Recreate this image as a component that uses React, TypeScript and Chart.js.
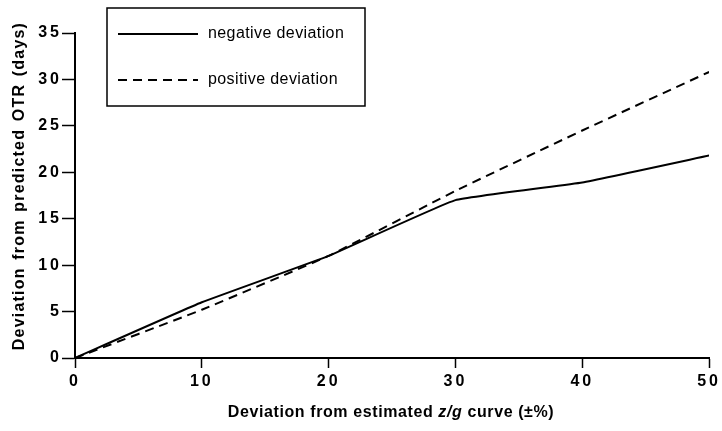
import React, { useEffect, useRef } from "react";
import { Chart, registerables } from "chart.js";

Chart.register(...registerables);

const xValues = [0, 10, 20, 30, 40, 50];
const negativeDeviation = [0, 6, 11, 17, 18.9, 21.8];
const positiveDeviation = [0, 5.2, 11, 18, 24.5, 30.8];
const xTicks = [0, 10, 20, 30, 40, 50];
const yTicks = [0, 5, 10, 15, 20, 25, 30, 35];
const legendLabels = ["negative deviation", "positive deviation"];
const yTitle = "Deviation from predicted OTR (days)";
const xTitleParts = [
  { text: "Deviation from estimated ", italic: false },
  { text: "z/g", italic: true },
  { text: " curve (±%)", italic: false },
];

const FONT = '"Liberation Sans", Arial, sans-serif';

const decorPlugin = {
  id: "decor",
  beforeDraw(chart: any) {
    chart.ctx.letterSpacing = "3px";
  },
  afterDraw(chart: any) {
    const ctx = chart.ctx as any;
    ctx.save();
    ctx.letterSpacing = "0px";
    ctx.fillStyle = "#000";
    ctx.strokeStyle = "#000";
    // Y title
    ctx.save();
    ctx.translate(20, 186);
    ctx.rotate(-Math.PI / 2);
    ctx.font = `bold 16px ${FONT}`;
    ctx.letterSpacing = "1.2px";
    ctx.wordSpacing = "2px";
    ctx.textAlign = "center";
    ctx.textBaseline = "middle";
    ctx.fillText(yTitle, 0, 0);
    ctx.restore();
    // X title with italic part
    ctx.letterSpacing = "0.6px";
    ctx.wordSpacing = "0px";
    const widths = xTitleParts.map((p) => {
      ctx.font = `${p.italic ? "italic " : ""}bold 16px ${FONT}`;
      return ctx.measureText(p.text).width;
    });
    const total = widths.reduce((a: number, b: number) => a + b, 0);
    let x = 391 - total / 2;
    ctx.textBaseline = "middle";
    ctx.textAlign = "left";
    xTitleParts.forEach((p, i) => {
      ctx.font = `${p.italic ? "italic " : ""}bold 16px ${FONT}`;
      ctx.fillText(p.text, x, 413);
      x += widths[i];
    });
    // Legend box
    ctx.letterSpacing = "0.4px";
    ctx.fillStyle = "#fff";
    ctx.fillRect(107, 8, 258, 98);
    ctx.lineWidth = 1.5;
    ctx.strokeRect(107, 8, 258, 98);
    const rows = [34, 80];
    ctx.lineWidth = 2;
    rows.forEach((y, i) => {
      ctx.setLineDash(i === 0 ? [] : [9, 6]);
      ctx.beginPath();
      ctx.moveTo(118, y);
      ctx.lineTo(198, y);
      ctx.stroke();
    });
    ctx.setLineDash([]);
    ctx.fillStyle = "#000";
    ctx.font = `16px ${FONT}`;
    ctx.textAlign = "left";
    ctx.textBaseline = "middle";
    rows.forEach((y, i) => ctx.fillText(legendLabels[i], 208, y));
    ctx.restore();
  },
};

export default function App() {
  const ref = useRef<HTMLCanvasElement>(null);
  useEffect(() => {
    document.body.style.margin = "0";
    const chart = new Chart(ref.current!, {
      type: "line",
      data: {
        datasets: [
          {
            label: legendLabels[0],
            data: xValues.map((x, i) => ({ x, y: negativeDeviation[i] })),
            borderColor: "#000",
            borderWidth: 2,
            pointRadius: 0,
            tension: 0.1,
            fill: false,
          },
          {
            label: legendLabels[1],
            data: xValues.map((x, i) => ({ x, y: positiveDeviation[i] })),
            borderColor: "#000",
            borderWidth: 2,
            borderDash: [9, 6],
            pointRadius: 0,
            tension: 0.1,
            fill: false,
          },
        ],
      },
      options: {
        responsive: false,
        animation: false,
        layout: { padding: { top: 33, right: 12, left: 0, bottom: 0 } },
        plugins: { legend: { display: false }, tooltip: { enabled: false } },
        scales: {
          x: {
            type: "linear",
            min: 0,
            max: 50,
            afterBuildTicks: (s: any) => {
              s.ticks = xTicks.map((v) => ({ value: v }));
            },
            afterFit: (s: any) => {
              s.height = 73;
            },
            grid: {
              display: true,
              drawOnChartArea: false,
              tickLength: 10,
              tickWidth: 1.5,
              color: "#000",
            },
            border: { display: true, color: "#000", width: 2 },
            ticks: {
              color: "#000",
              font: { family: FONT, size: 16, weight: "bold" },
              padding: 4,
              maxRotation: 0,
            },
          },
          y: {
            type: "linear",
            min: 0,
            max: 35,
            afterBuildTicks: (s: any) => {
              s.ticks = yTicks.map((v) => ({ value: v }));
            },
            afterFit: (s: any) => {
              s.width = 75;
            },
            grid: {
              display: true,
              drawOnChartArea: false,
              tickLength: 13,
              tickWidth: 1.5,
              color: "#000",
            },
            border: { display: true, color: "#000", width: 2 },
            ticks: {
              color: "#000",
              font: { family: FONT, size: 16, weight: "bold" },
              padding: 0,
            },
          },
        },
      },
      plugins: [decorPlugin],
    } as any);
    return () => chart.destroy();
  }, []);
  return (
    <div style={{ width: 722, height: 431 }}>
      <canvas ref={ref} width={722} height={431} />
    </div>
  );
}
